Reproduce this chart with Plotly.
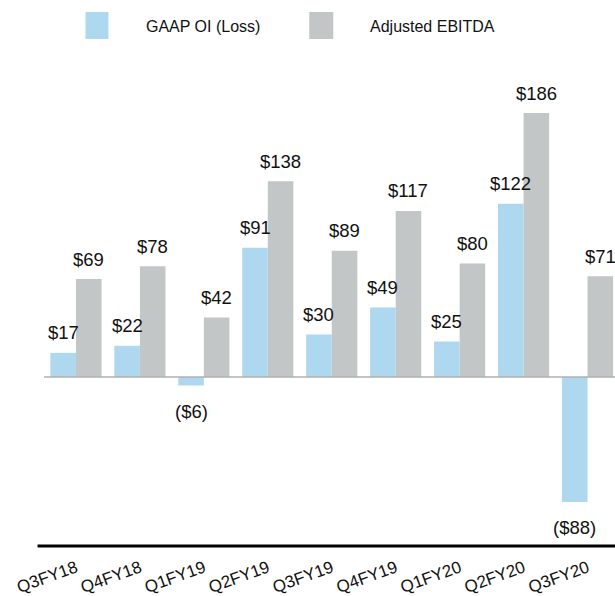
import plotly.graph_objects as go

categories = ["Q3FY18", "Q4FY18", "Q1FY19", "Q2FY19", "Q3FY19", "Q4FY19", "Q1FY20", "Q2FY20", "Q3FY20"]
gaap_oi = [17, 22, -6, 91, 30, 49, 25, 122, -88]
adj_ebitda = [69, 78, 42, 138, 89, 117, 80, 186, 71]
series_names = ["GAAP OI (Loss)", "Adjusted EBITDA"]
colors = ["#AED8F0", "#C2C6C6"]

W, H = 615, 596
ml, mr, mt, mb = 43.5, 0, 70, 50
pw = W - ml - mr
ph = H - mt - mb
cat_px = 64.0
xmax = -0.5 + pw / cat_px
scale = 264 / 186.0
zero_from_top = 307
ytop = zero_from_top / scale
ybot = -(ph - zero_from_top) / scale

FONT = "Liberation Sans, Arial, sans-serif"

def fmt(v):
    return f"${v}" if v >= 0 else f"(${-v})"

fig = go.Figure()
for name, vals, col in zip(series_names, [gaap_oi, adj_ebitda], colors):
    fig.add_trace(go.Bar(x=categories, y=vals, name=name, marker_color=col,
                         marker_line_width=0, showlegend=False))

annotations = []
bar_half = cat_px * 0.8 / 4
for i, vals in enumerate([gaap_oi, adj_ebitda]):
    xs = -bar_half if i == 0 else bar_half
    for c, v in zip(categories, vals):
        annotations.append(dict(x=c, y=v, text=fmt(v), showarrow=False,
                                xshift=xs, yshift=20 if v >= 0 else -26,
                                yanchor="middle", xanchor="center",
                                font=dict(family=FONT, size=18.5, color="#111")))

# legend (custom)
def px2x(p):
    return (p - ml) / pw

def px2y(p):
    return (H - mb - p) / ph

shapes = []
leg = [(85, 108, 144), (309, 333, 368)]
for (x0, x1, tx), name, col in zip(leg, series_names, colors):
    shapes.append(dict(type="rect", xref="paper", yref="paper",
                       x0=px2x(x0), x1=px2x(x1), y0=px2y(39), y1=px2y(12),
                       fillcolor=col, line_width=0))
    annotations.append(dict(xref="paper", yref="paper", x=px2x(tx), y=px2y(26),
                            text=name, showarrow=False, xanchor="left", yanchor="middle",
                            font=dict(family=FONT, size=16, color="#111")))

# zero line
shapes.append(dict(type="line", xref="paper", yref="y", x0=0, x1=1, y0=0, y1=0,
                   line=dict(color="#B0B0B0", width=1.5), layer="above"))
# bottom axis line
shapes.append(dict(type="line", xref="paper", yref="paper", x0=px2x(37), x1=1, y0=0, y1=0,
                   line=dict(color="#000000", width=3), layer="above"))

fig.update_layout(
    width=W, height=H,
    margin=dict(l=ml, r=mr, t=mt, b=mb, pad=0, autoexpand=False),
    paper_bgcolor="white", plot_bgcolor="white",
    barmode="group", bargap=0.2, bargroupgap=0,
    font=dict(family=FONT, size=16, color="#111"),
    xaxis=dict(range=[-0.5, xmax], showgrid=False, zeroline=False, showline=False,
               automargin=False, ticks="", tickangle=-20, ticklabelstandoff=8,
               tickfont=dict(family=FONT, size=17, color="#111")),
    yaxis=dict(range=[ybot, ytop], visible=False, showgrid=False, zeroline=False,
               automargin=False),
    shapes=shapes, annotations=annotations,
)

fig.write_html("out.html", config={"displayModeBar": False},
               post_script="document.body.style.margin='0';document.body.style.overflow='hidden';")
